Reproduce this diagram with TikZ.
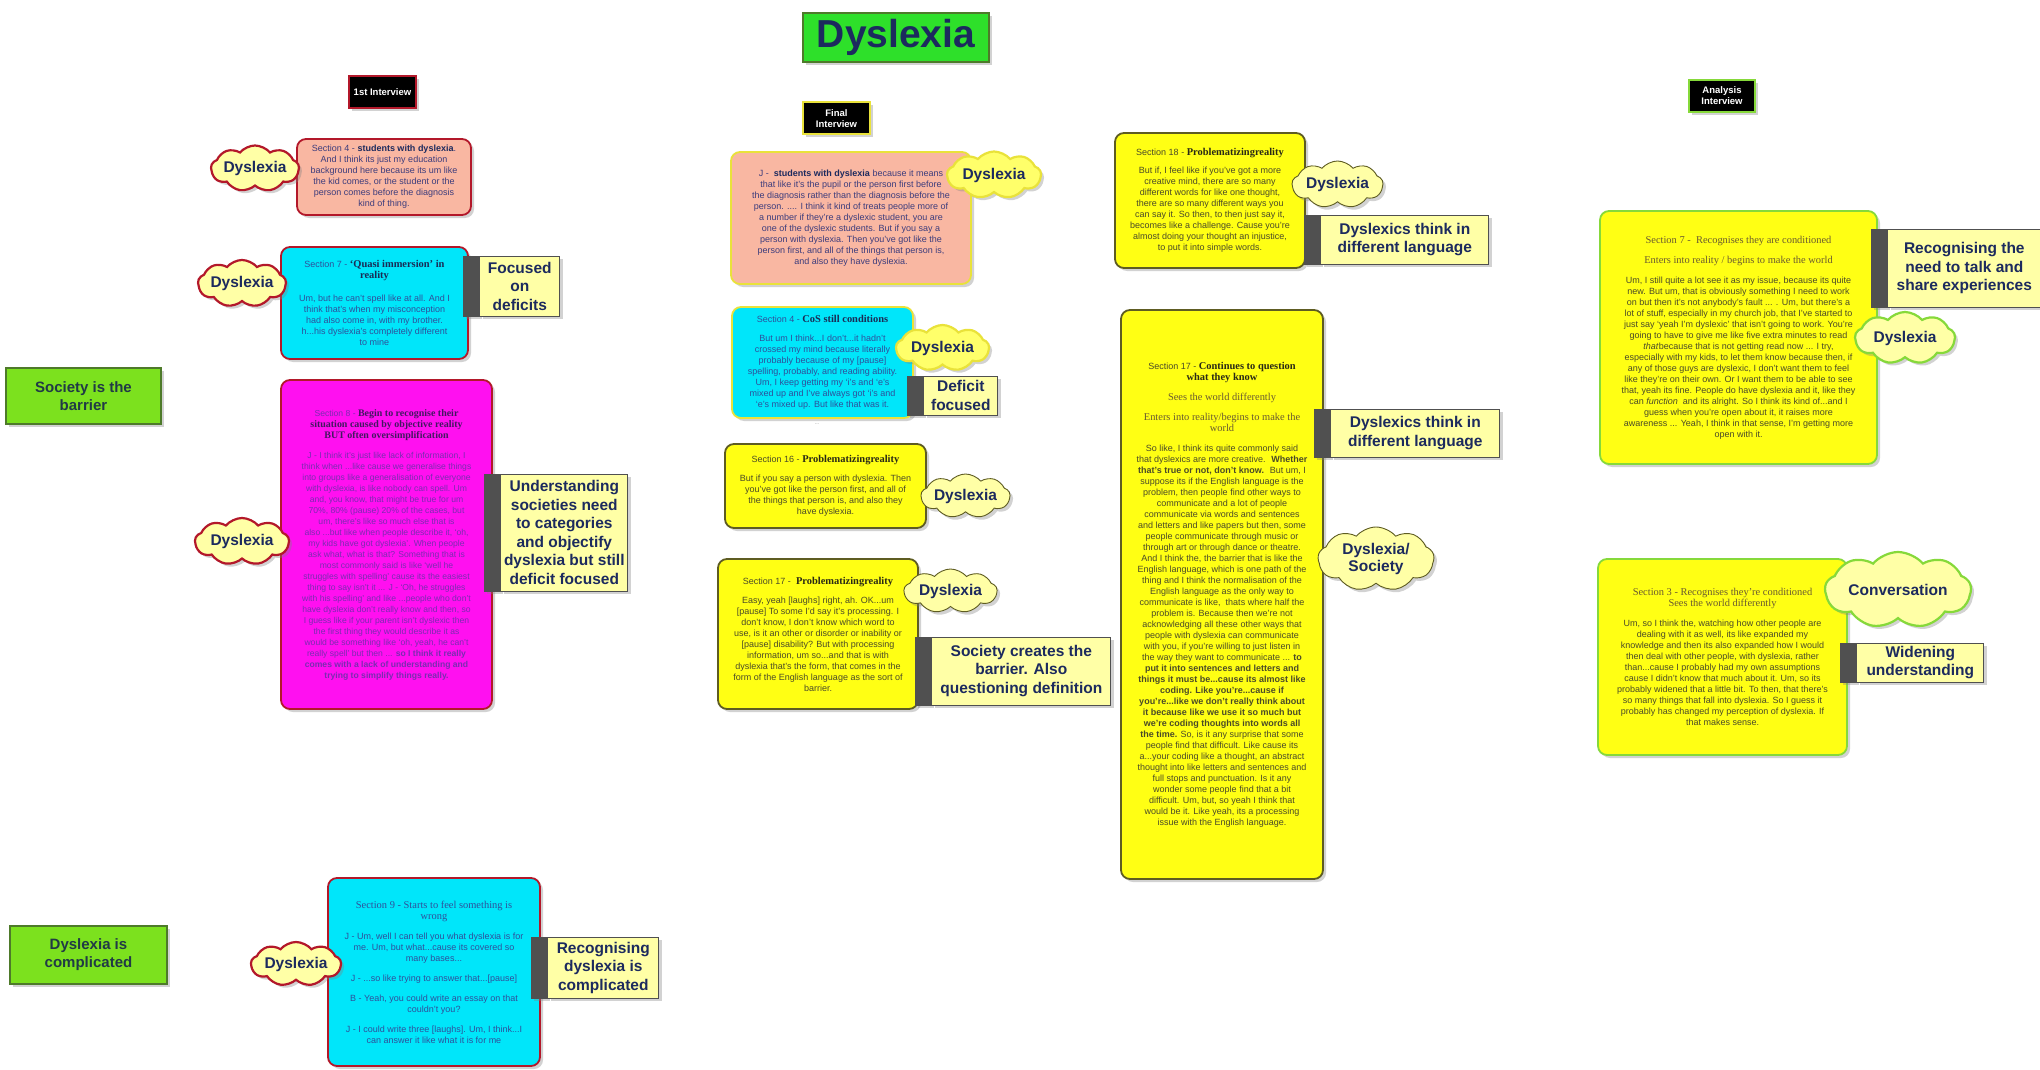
\documentclass[tikz,border=0pt]{standalone}
\usepackage{fontspec}
\setmainfont{Liberation Sans}
\newfontfamily\headfont[Scale=1.16]{Liberation Serif}
\usepackage{tikz}
\usetikzlibrary{shapes.symbols,shadows,positioning}
\usepackage{xcolor}

\definecolor{navy}{HTML}{1C2A5E}
\definecolor{redline}{HTML}{B3182A}
\definecolor{salmon}{HTML}{F9B7A2}
\definecolor{cyanfill}{HTML}{00E6FA}
\definecolor{magfill}{HTML}{FF10F0}
\definecolor{yellowfill}{HTML}{FFFF14}
\definecolor{paleyellow}{HTML}{FFFFA6}
\definecolor{cloudyellow}{HTML}{FFFF6A}
\definecolor{oliveline}{HTML}{5E5C22}
\definecolor{goldline}{HTML}{E9E23A}
\definecolor{limeline}{HTML}{86D93A}
\definecolor{titlegreen}{HTML}{2EE02A}
\definecolor{labelgreen}{HTML}{7CE11E}
\definecolor{greenline}{HTML}{4E7A2A}
\definecolor{greenink}{HTML}{213A46}
\definecolor{bandgray}{HTML}{505050}
\definecolor{pinkink}{HTML}{3C3C7C}
\definecolor{cyanink}{HTML}{2F4F9A}
\definecolor{magink}{HTML}{7A2CB0}
\definecolor{yellink}{HTML}{4A4A28}
\definecolor{headink}{HTML}{6A5A30}

\newcommand{\txtsz}{\fontsize{9}{11}\selectfont}
\newcommand{\tagsz}{\bfseries\fontsize{15.5}{18.5}\selectfont}
\newcommand{\hd}[1]{{\headfont\bfseries\color{.!55!black}#1}}

\begin{document}
\begin{tikzpicture}[x=1pt,y=-1pt,
    softshadow/.style={drop shadow={shadow xshift=3pt,shadow yshift=-3pt,opacity=.35}},
    quotebox/.style={softshadow,rounded corners=9pt,line width=1.8pt,align=center,font=\txtsz,inner sep=3pt},
    pinkcard/.style={quotebox,fill=salmon,text=pinkink},
    cyancard/.style={quotebox,fill=cyanfill,text=cyanink},
    magcard/.style={quotebox,fill=magfill,text=magink,font=\fontsize{8.6}{11}\selectfont},
    yellcard/.style={quotebox,fill=yellowfill,text=yellink},
    bubble/.style={softshadow,cloud,cloud puffs=9,cloud puff arc=100,cloud ignores aspect,inner sep=-2pt,align=center,text=navy,font=\bfseries\fontsize{15.5}{17}\selectfont},
    redbubble/.style={bubble,fill=paleyellow,draw=redline,line width=2.2pt},
    goldbubble/.style={bubble,fill=cloudyellow,draw=goldline,line width=2.2pt},
    olivebubble/.style={bubble,fill=paleyellow,draw=oliveline,line width=.9pt},
    limebubble/.style={bubble,fill=paleyellow,draw=limeline,line width=2.2pt},
    tagband/.style={softshadow,fill=bandgray,draw=bandgray,line width=.8pt,minimum width=16,inner sep=0pt},
    tagbox/.style={softshadow,fill=paleyellow,draw=bandgray,line width=.8pt,text=navy,font=\tagsz,align=center,inner xsep=2pt,inner ysep=1pt},
    headbox/.style={softshadow,fill=black,text=white,line width=2pt,align=center,font=\bfseries\fontsize{9.5}{11}\selectfont,minimum height=32,inner sep=3pt},
    greenbox/.style={softshadow,fill=labelgreen,draw=greenline,line width=1.2pt,text=greenink,align=center,font=\bfseries\fontsize{15}{18}\selectfont}
]
    \fill[white] (0,0) rectangle (2040,1070);
    \useasboundingbox (0,0) rectangle (2040,1070);

    % Title and interview headers
    \node[softshadow,fill=titlegreen,draw=greenline,line width=1.5pt,text=navy,
          font=\bfseries\fontsize{39}{40}\selectfont,minimum width=186,minimum height=49] (title) at (896,37.5) {Dyslexia};
    \node[headbox,draw=redline,minimum width=67] (first) at (382.5,92) {1st Interview};
    \node[headbox,draw=goldline,minimum width=67] (final) at (836.5,118.5) {Final\\Interview};
    \node[headbox,draw=limeline,minimum width=66] (analysis) at (1722,96) {Analysis\\Interview};

    % Themes on the left
    \node[greenbox,minimum width=155,minimum height=56] (barrier) at (83.5,396) {Society is the\\barrier};
    \node[greenbox,minimum width=157,minimum height=58] (complicated) at (88.5,955) {Dyslexia is\\complicated};

    % 1st interview
    \node[pinkcard,draw=redline,minimum width=174,minimum height=76] (s4a) at (384,177) {%
        Section 4 - \textbf{\color{navy}students with dyslexia}.\\
        And I think its just my education\\
        background here because its um like\\
        the kid comes, or the student or the\\
        person comes before the diagnosis\\
        kind of thing.};
    \node[cyancard,draw=redline,minimum width=187,minimum height=112] (s7a) at (374.5,303) {%
        Section 7 - \hd{‘Quasi immersion’ in}\\
        \hd{reality}\\[12pt]
        Um, but he can’t spell like at all. And I\\
        think that’s when my misconception\\
        had also come in, with my brother.\\
        h...his dyslexia’s completely different\\
        to mine};
    \node[magcard,draw=redline,minimum width=211,minimum height=329] (s8a) at (386.5,544.5) {%
        Section 8 - \hd{Begin to recognise their}\\
        \hd{situation caused by objective reality}\\
        \hd{BUT often oversimplification}\\[9pt]
        J - I think it’s just like lack of information, I\\
        think when ...like cause we generalise things\\
        into groups like a generalisation of everyone\\
        with dyslexia, is like nobody can spell. Um\\
        and, you know, that might be true for um\\
        70\%, 80\% (pause) 20\% of the cases, but\\
        um, there’s like so much else that is\\
        also ...but like when people describe it, ‘oh,\\
        my kids have got dyslexia’. When people\\
        ask what, what is that? Something that is\\
        most commonly said is like ‘well he\\
        struggles with spelling’ cause its the easiest\\
        thing to say isn’t it ... J - ‘Oh, he struggles\\
        with his spelling’ and like ...people who don’t\\
        have dyslexia don’t really know and then, so\\
        I guess like if your parent isn’t dyslexic then\\
        the first thing they would describe it as\\
        would be something like ‘oh, yeah, he can’t\\
        really spell’ but then ... \textbf{so I think it really}\\
        \textbf{comes with a lack of understanding and}\\
        \textbf{trying to simplify things really.}};
    \node[cyancard,draw=redline,minimum width=212,minimum height=188] (s9a) at (434,972) {%
        {\headfont Section 9 - Starts to feel something is}\\
        {\headfont wrong}\\[9pt]
        J - Um, well I can tell you what dyslexia is for\\
        me. Um, but what...cause its covered so\\
        many bases...\\[9pt]
        J - ...so like trying to answer that...[pause]\\[9pt]
        B - Yeah, you could write an essay on that\\
        couldn’t you?\\[9pt]
        J - I could write three [laughs]. Um, I think...I\\
        can answer it like what it is for me};

    \node[redbubble,minimum width=88,minimum height=46] (c4a) at (255,168.5) {Dyslexia};
    \node[redbubble,minimum width=88,minimum height=47] (c7a) at (242,283.5) {Dyslexia};
    \node[redbubble,minimum width=94,minimum height=47] (c8a) at (242,541.5) {Dyslexia};
    \node[redbubble,minimum width=90,minimum height=44] (c9a) at (296,964) {Dyslexia};

    \node[tagband,minimum height=60] (defband) at (471,286) {};
    \node[tagbox,right=0pt of defband,minimum width=80,minimum height=60] (deficits) {Focused\\on\\deficits};
    \node[tagband,minimum height=117] (undband) at (492,532.5) {};
    \node[tagbox,right=0pt of undband,minimum width=127,minimum height=117] (societies) {Understanding\\societies need\\to categories\\and objectify\\dyslexia but still\\deficit focused};
    \node[tagband,minimum height=61] (comband) at (539,967.5) {};
    \node[tagbox,right=0pt of comband,minimum width=111,minimum height=61] (recdys) {Recognising\\dyslexia is\\complicated};

    % Final interview
    \node[pinkcard,draw=goldline,minimum width=240,minimum height=132] (jbox) at (851,218) {%
        J - \ \textbf{\color{navy}students with dyslexia} because it means\\
        that like it’s the pupil or the person first before\\
        the diagnosis rather than the diagnosis before the\\
        person. .... I think it kind of treats people more of\\
        a number if they’re a dyslexic student, you are\\
        one of the dyslexic students. But if you say a\\
        person with dyslexia. Then you’ve got like the\\
        person first, and all of the things that person is,\\
        and also they have dyslexia.};
    \node[cyancard,draw=goldline,minimum width=181,minimum height=111] (s4b) at (822.5,362.5) {%
        Section 4 - \hd{CoS still conditions}\\[8pt]
        But um I think...I don’t...it hadn’t\\
        crossed my mind because literally\\
        probably because of my [pause]\\
        spelling, probably, and reading ability.\\
        Um, I keep getting my ‘i’s and ‘e’s\\
        mixed up and I’ve always got ‘i’s and\\
        ‘e’s mixed up. But like that was it.};
    \node[text=gray,font=\fontsize{5}{5}\selectfont] (dots) at (817,424) {...};
    \node[yellcard,draw=oliveline,minimum width=201,minimum height=84] (s16) at (825.5,486) {%
        Section 16 - \hd{Problematizingreality}\\[8pt]
        But if you say a person with dyslexia. Then\\
        you’ve got like the person first, and all of\\
        the things that person is, and also they\\
        have dyslexia.};
    \node[yellcard,draw=oliveline,minimum width=200,minimum height=150] (s17a) at (818,634) {%
        Section 17 - \ \hd{Problematizingreality}\\[8pt]
        Easy, yeah [laughs] right, ah. OK...um\\
        \relax[pause] To some I’d say it’s processing. I\\
        don’t know, I don’t know which word to\\
        use, is it an other or disorder or inability or\\
        \relax[pause] disability? But with processing\\
        information, um so...and that is with\\
        dyslexia that’s the form, that comes in the\\
        form of the English language as the sort of\\
        barrier.};

    \node[goldbubble,minimum width=94,minimum height=47] (cj) at (994,175) {Dyslexia};
    \node[goldbubble,minimum width=93,minimum height=46] (c4b) at (942.5,348) {Dyslexia};
    \node[olivebubble,minimum width=89,minimum height=44] (c16) at (965.5,496) {Dyslexia};
    \node[olivebubble,minimum width=93,minimum height=44] (c17a) at (950.5,591) {Dyslexia};

    \node[tagband,minimum height=39] (focband) at (915,395.5) {};
    \node[tagbox,right=0pt of focband,minimum width=74,minimum height=39] (deffoc) {Deficit\\focused};
    \node[tagband,minimum height=68] (barband) at (923,671) {};
    \node[tagbox,right=0pt of barband,minimum width=179,minimum height=68] (creates) {Society creates the\\barrier. Also\\questioning definition};

    % Third column
    \node[yellcard,draw=oliveline,minimum width=190,minimum height=135] (s18) at (1210,200.5) {%
        Section 18 - \hd{Problematizingreality}\\[7pt]
        But if, I feel like if you’ve got a more\\
        creative mind, there are so many\\
        different words for like one thought,\\
        there are so many different ways you\\
        can say it. So then, to then just say it,\\
        becomes like a challenge. Cause you’re\\
        almost doing your thought an injustice,\\
        to put it into simple words.};
    \node[yellcard,draw=oliveline,minimum width=202,minimum height=569] (s17b) at (1222,594.5) {%
        Section 17 - \hd{Continues to question}\\
        \hd{what they know}\\[9pt]
        {\headfont\color{headink}Sees the world differently}\\[9pt]
        {\headfont\color{headink}Enters into reality/begins to make the}\\
        {\headfont\color{headink}world}\\[9pt]
        So like, I think its quite commonly said\\
        that dyslexics are more creative. \ \textbf{Whether}\\
        \textbf{that’s true or not, don’t know.} \ But um, I\\
        suppose its if the English language is the\\
        problem, then people find other ways to\\
        communicate and a lot of people\\
        communicate via words and sentences\\
        and letters and like papers but then, some\\
        people communicate through music or\\
        through art or through dance or theatre.\\
        And I think the, the barrier that is like the\\
        English language, which is one path of the\\
        thing and I think the normalisation of the\\
        English language as the only way to\\
        communicate is like, \ thats where half the\\
        problem is. Because then we’re not\\
        acknowledging all these other ways that\\
        people with dyslexia can communicate\\
        with you, if you’re willing to just listen in\\
        the way they want to communicate ... \textbf{to}\\
        \textbf{put it into sentences and letters and}\\
        \textbf{things it must be...cause its almost like}\\
        \textbf{coding. Like you’re...cause if}\\
        \textbf{you’re...like we don’t really think about}\\
        \textbf{it because like we use it so much but}\\
        \textbf{we’re coding thoughts into words all}\\
        \textbf{the time.} So, is it any surprise that some\\
        people find that difficult. Like cause its\\
        a...your coding like a thought, an abstract\\
        thought into like letters and sentences and\\
        full stops and punctuation. Is it any\\
        wonder some people find that a bit\\
        difficult. Um, but, so yeah I think that\\
        would be it. Like yeah, its a processing\\
        issue with the English language.};

    \node[olivebubble,minimum width=91,minimum height=47] (c18) at (1337.5,184.5) {Dyslexia};
    \node[olivebubble,minimum width=116,minimum height=64] (csoc) at (1376,559) {Dyslexia/\\Society};

    \node[tagband,minimum height=49] (langband) at (1312,239.5) {};
    \node[tagbox,right=0pt of langband,minimum width=168,minimum height=49] (lang) {Dyslexics think in\\different language};
    \node[tagband,minimum height=48] (langband2) at (1322,433) {};
    \node[tagbox,right=0pt of langband2,minimum width=169,minimum height=48] (lang2) {Dyslexics think in\\different language};

    % Analysis interview
    \node[yellcard,draw=limeline,minimum width=277,minimum height=253] (s7c) at (1738.5,337.5) {%
        {\headfont\color{headink}Section 7 - \ Recognises they are conditioned}\\[9pt]
        {\headfont\color{headink}Enters into reality / begins to make the world}\\[9pt]
        Um, I still quite a lot see it as my issue, because its quite\\
        new. But um, that is obviously something I need to work\\
        on but then it’s not anybody’s fault ... . Um, but there’s a\\
        lot of stuff, especially in my church job, that I’ve started to\\
        just say ‘yeah I’m dyslexic’ that isn’t going to work. You’re\\
        going to have to give me like five extra minutes to read\\
        \textit{that}because that is not getting read now ... I try,\\
        especially with my kids, to let them know because then, if\\
        any of those guys are dyslexic, I don’t want them to feel\\
        like they’re on their own. Or I want them to be able to see\\
        that, yeah its fine. People do have dyslexia and it, like they\\
        can \textit{function} \ and its alright. So I think its kind of...and I\\
        guess when you’re open about it, it raises more\\
        awareness ... Yeah, I think in that sense, I’m getting more\\
        open with it.};
    \node[yellcard,draw=limeline,minimum width=249,minimum height=196] (s3c) at (1722.5,657) {%
        {\headfont\color{headink}Section 3 - Recognises they’re conditioned}\\
        {\headfont\color{headink}Sees the world differently}\\[9pt]
        Um, so I think the, watching how other people are\\
        dealing with it as well, its like expanded my\\
        knowledge and then its also expanded how I would\\
        then deal with other people, with dyslexia, rather\\
        than...cause I probably had my own assumptions\\
        cause I didn’t know that much about it. Um, so its\\
        probably widened that a little bit. To then, that there’s\\
        so many things that fall into dyslexia. So I guess it\\
        probably has changed my perception of dyslexia. If\\
        that makes sense.};

    \node[limebubble,minimum width=100,minimum height=52] (c7c) at (1905,338) {Dyslexia};
    \node[limebubble,minimum width=146,minimum height=76] (conv) at (1898,590) {Conversation};

    \node[tagband,minimum height=78] (shareband) at (1879,268) {};
    \node[tagbox,right=0pt of shareband,minimum width=153,minimum height=78] (share) {Recognising the\\need to talk and\\share experiences};
    \node[tagband,minimum height=39] (widband) at (1848,662.5) {};
    \node[tagbox,right=0pt of widband,minimum width=127,minimum height=39] (widen) {Widening\\understanding};
\end{tikzpicture}
\end{document}
